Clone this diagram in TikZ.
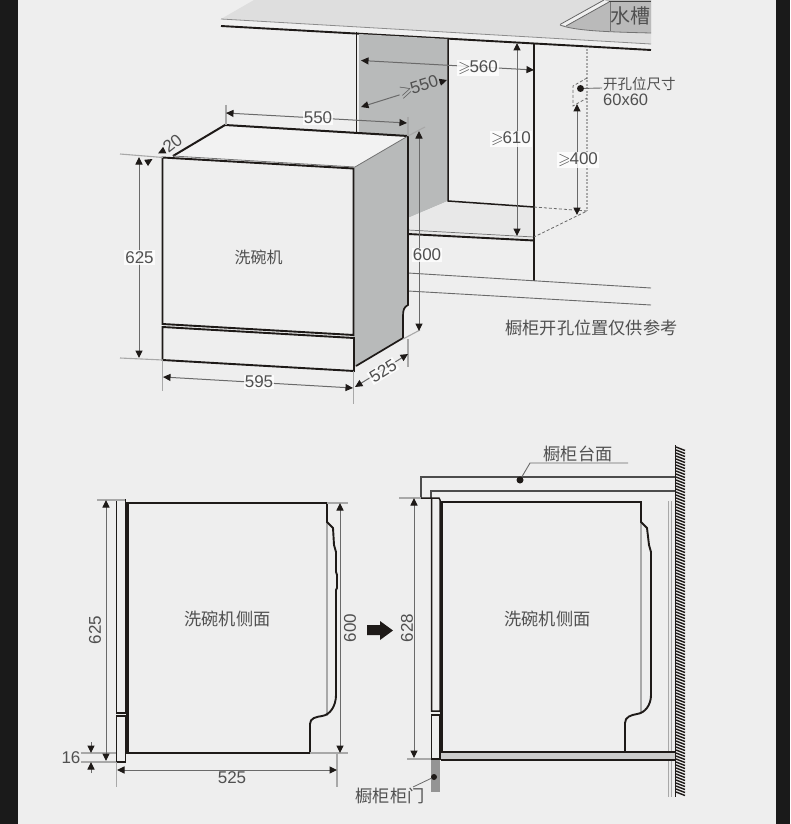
\documentclass[tikz,border=0pt]{standalone}
\usepackage{amssymb}
\usepackage{fontspec}
\setmainfont{Liberation Sans}
\newfontfamily\cjk{Noto Sans CJK SC}
\usetikzlibrary{arrows.meta}
\definecolor{bgc}{HTML}{EEEEEE}
\definecolor{band}{HTML}{1A1A1A}
\definecolor{sidec}{HTML}{B8BABA}
\definecolor{dimc}{HTML}{6A6A6A}
\definecolor{extc}{HTML}{A8A8A8}
\definecolor{txt}{HTML}{505050}
\definecolor{ink}{HTML}{1E1A18}
\newcommand{\gequ}{{\fontsize{16}{16}\selectfont$\geqslant$}\kern-1pt}
\tikzset{
 heavy/.style={draw=ink,line width=1.9pt,line join=miter},
 mid/.style={draw=ink,line width=1.5pt},
 thick2/.style={draw=ink,line width=3pt},
 dimline/.style={draw=dimc,line width=1pt,{Triangle[length=7.5pt,width=7pt,fill=ink,color=ink]}-{Triangle[length=7.5pt,width=7pt,fill=ink,color=ink]}},
 dimone/.style={draw=dimc,line width=1pt,-{Triangle[length=7.5pt,width=7pt,fill=ink,color=ink]}},
 extline/.style={draw=extc,line width=1.1pt},
 dimlab/.style={fill=white,fill opacity=.8,text opacity=1,text=txt,inner sep=1pt,font=\fontsize{17}{17}\selectfont},
 plainlab/.style={text=txt,inner sep=0pt,font=\fontsize{17}{17}\selectfont},
 cjklab/.style={text=txt,inner sep=0pt,font=\cjk\fontsize{17.2}{17.2}\selectfont},
 blob/.style={circle,fill=ink,inner sep=0pt,minimum size=7pt},
 dashgrey/.style={draw=dimc,line width=0.8pt,dash pattern=on 3pt off 2pt},
 dotgrey/.style={draw=extc,line width=1.2pt,dash pattern=on 2pt off 1.5pt},
}
\begin{document}
\begin{tikzpicture}[x=1pt,y=-1pt]
\useasboundingbox (0,0) rectangle (790,824);
\fill[bgc] (0,0) rectangle (790,824);
\fill[band] (0,0) rectangle (18,824);
\fill[band] (776,0) rectangle (790,824);

% ---- counter top and sink
\fill[black!13] (221,19) -- (254,0) -- (651,0) -- (651,44) -- cycle;
\fill[black!6] (221,19) -- (651,44) -- (651,50) -- (221,26) -- cycle;
\draw[draw=black!45,line width=.8pt] (221,19) -- (651,44);
\draw[heavy] (221,26) -- (651,50);
\fill[black!27] (560,25) -- (604,0) -- (651,0) -- (651,33) .. controls (610,32) and (575,31) .. (560,25) -- cycle;
\fill[black!6] (560,24.5) -- (604,0) -- (609,2) -- (566,26) -- cycle;
\draw[draw=black!60,line width=.8pt] (560,24.5) -- (604,0);
\draw[draw=black!60,line width=.8pt] (566,26) -- (609,2);
\draw[draw=black!75,line width=1pt] (609,1.5) -- (651,1.5);
\draw[draw=black!55,line width=.8pt] (610,2) -- (610,31);
\draw[draw=black!55,line width=.8pt] (560,25) .. controls (575,31) and (610,32) .. (651,33);
\node[text=txt,inner sep=0pt,font=\cjk\fontsize{20}{20}\selectfont] (sink) at (630,16) {水槽};

% ---- cabinet opening
\fill[sidec] (359,34) -- (448,39) -- (448,201) -- (408,218) -- (359,218) -- cycle;
\fill[black!9] (448,201) -- (534,207) -- (534,240) -- (408,233) -- (408,218) -- cycle;
\draw[mid] (448,39) -- (448,201) -- (534,207);
\draw[draw=black!55,line width=.7pt] (408,230) -- (534,237);
\draw[heavy] (408,234) -- (534,240.5);
\draw[mid,line width=1.6pt] (534,44) -- (534,281);
\draw[heavy] (356.5,32) -- (356.5,133);
\draw[draw=dimc,line width=.9pt] (408,273) -- (651,288);
\draw[draw=dimc,line width=.9pt] (408,291) -- (651,305);
\draw[dashgrey] (534,207) -- (587,211) -- (534,237);
\draw[dotgrey] (587,49) -- (587,211);
\draw[dashgrey] (587,78) -- (573,86) -- (573,106) -- (587,98);

% ---- dishwasher 3D
\fill[black!5] (173,156) -- (225,125) -- (408,136) -- (355,167) -- cycle;
\fill[sidec] (353,168) -- (408,136) -- (408,305) .. controls (404,307) and (403,310) .. (403,316) -- (403,338) -- (356,366) -- (353,371) -- cycle;
\draw[draw=ink,line width=2pt] (173,156) -- (225,125) -- (408,136);
\draw[draw=black!55,line width=.8pt] (408,136) -- (355,167) (173,156) -- (355,167);
\draw[draw=ink,line width=1.7pt] (408,136) -- (408,305) .. controls (404,307) and (403,310) .. (403,316) -- (403,338) -- (356,366);
\draw[heavy] (162.5,324) -- (162.5,157.5) -- (353.5,168.5) -- (353.5,335) -- cycle;
\draw[heavy] (162.5,327) -- (162.5,360) -- (354,371) -- (354,338) -- cycle;
\node[cjklab,font=\cjk\fontsize{16}{16}\selectfont] (wlabel) at (258.5,257.5) {洗碗机};

% ---- 3D dimensions
\draw[extline] (226,105) -- (226,125);
\draw[extline] (408,117) -- (408,136);
\draw[extline] (120,154) -- (163,157.5);
\draw[extline] (120,358) -- (163,360);
\draw[extline] (162.5,360) -- (162.5,391);
\draw[extline] (353.5,371) -- (353.5,404);
\draw[extline] (408,339) -- (408,367);
\draw[extline] (408,136) -- (425,127);
\draw[extline] (403,339) -- (420,330);
\coordinate (a1) at (226,113); \coordinate (a2) at (407,123);
\draw[dimline] (a1) -- (a2);
\node[dimlab,fill=white] (l550) at (318,118) {550};
\coordinate (b1) at (139,157); \coordinate (b2) at (139,358);
\draw[dimline] (b1) -- (b2);
\node[dimlab,fill=white] (l625) at (139.5,257.5) {625};
\coordinate (c1) at (163,377); \coordinate (c2) at (353,388);
\draw[dimline] (c1) -- (c2);
\node[dimlab,fill=white] (l595) at (259,382) {595};
\coordinate (d1) at (355,387); \coordinate (d2) at (408,354);
\draw[dimline] (d1) -- (d2);
\node[dimlab,fill=white,rotate=32] (l525) at (383,371) {525};
\coordinate (e1) at (419,131); \coordinate (e2) at (419,331);
\draw[dimline] (e1) -- (e2);
\node[dimlab,fill=white] (l600) at (427,255) {600};
\coordinate (f1) at (146,163); \coordinate (f2) at (152.5,159);
\draw[dimone] (f1) -- (f2);
\coordinate (g1) at (165,150); \coordinate (g2) at (158,153.5);
\draw[dimone] (g1) -- (g2);
\node[plainlab,rotate=38] (l20) at (172.5,143.5) {20};

% ---- opening dimensions
\coordinate (h1) at (361,60.5); \coordinate (h2) at (534,70);
\draw[dimline] (h1) -- (h2);
\node[dimlab] (l560) at (478,68) {\gequ 560};
\coordinate (i1) at (361,107); \coordinate (i2) at (447,80);
\draw[dimline] (i1) -- (i2);
\node[dimlab,fill=sidec,fill opacity=1,rotate=17] (l550b) at (419,87) {\gequ 550};
\coordinate (j1) at (517,43); \coordinate (j2) at (517,236);
\draw[dimline] (j1) -- (j2);
\node[dimlab] (l610) at (511,139) {\gequ 610};
\coordinate (k1) at (577,104); \coordinate (k2) at (577,215);
\draw[dimline] (k1) -- (k2);
\node[dimlab] (l400) at (578,160) {\gequ 400};
\node[blob] (hole) at (580.5,88.5) {};
\coordinate (holeend) at (602,88);
\draw[draw=dimc,line width=.9pt] (hole) -- (holeend);
\node[text=txt,inner sep=0pt,anchor=west,font=\cjk\fontsize{14.5}{14.5}\selectfont] (t1) at (603,84) {开孔位尺寸};
\node[text=txt,inner sep=0pt,anchor=west,font=\fontsize{16.5}{16.5}\selectfont] (t2) at (603,100) {60x60};
\node[cjklab] (t3) at (591.5,328) {橱柜开孔位置仅供参考};

% ---- lower left side view
\draw[mid] (116.5,500) rectangle (125.5,713);
\draw[mid] (116.5,716) rectangle (125.5,762);
\draw[extline] (327,522) -- (327,716);
\draw[thick2,line cap=butt] (127.5,502) -- (127.5,754);
\draw[heavy] (127,503) -- (327,503) -- (327,522) -- (333,528) -- (334,545) -- (336,552) -- (336,572) -- (337,575) -- (337,588) -- (336,590) -- (336,695) .. controls (336,706) and (330,715) .. (322,716) .. controls (316,717) and (310,718) .. (310,724) -- (310,753) -- (127,753);
\node[cjklab] (s1) at (227.5,619) {洗碗机侧面};
\draw[extline] (97,500) -- (125,500);
\draw[extline] (81,762) -- (116,762);
\draw[extline] (81,753) -- (116,753);
\draw[extline] (310,753) -- (348,753);
\draw[extline] (327,503) -- (348,503);
\draw[extline] (116.5,762) -- (116.5,787);
\draw[extline] (337,753) -- (337,787);
\coordinate (m1) at (106,500); \coordinate (m2) at (106,761);
\draw[dimline] (m1) -- (m2);
\node[plainlab,rotate=90] (l625b) at (95,630) {625};
\coordinate (n1) at (340,503); \coordinate (n2) at (340,753);
\draw[dimline] (n1) -- (n2);
\node[plainlab,rotate=90] (l600b) at (350,628) {600};
\coordinate (o1) at (91,742); \coordinate (o2) at (91,753);
\draw[dimone] (o1) -- (o2);
\coordinate (p1) at (91,773); \coordinate (p2) at (91,762);
\draw[dimone] (p1) -- (p2);
\node[plainlab] (l16) at (71,758) {16};
\coordinate (q1) at (117,770); \coordinate (q2) at (337,770);
\draw[dimline] (q1) -- (q2);
\node[plainlab] (l525b) at (232,778) {525};

% ---- arrow
\fill[ink] (367,625) -- (380,625) -- (380,621) -- (393,630.5) -- (380,640) -- (380,635) -- (367,635) -- cycle;

% ---- lower right
\fill[black!8] (668,501) rectangle (671,797);
\draw[draw=extc,line width=1pt] (668,501) -- (668,797) (671,501) -- (671,797);
\fill[black!20] (441,752) rectangle (675,760);
\draw[mid] (441,752) -- (675,752);
\draw[mid] (441,760) -- (675,760);
\draw[draw=black!70,line width=1.4pt] (421,498) -- (421,477) -- (675,477);
\draw[draw=black!70,line width=1.4pt] (431,498) -- (431,491) -- (675,491);
\draw[mid] (421,498) -- (439,498) -- (440,500) -- (440,712) (431.5,498) -- (431.5,711) -- (440,711);
\draw[mid] (431.5,715) rectangle (440,759);
\draw[extline] (641,522) -- (641,714);
\draw[thick2,line cap=butt] (441.5,501) -- (441.5,752);
\draw[heavy] (441,502) -- (641,502) -- (641,522) -- (647,528) -- (649,545) -- (651,552) -- (651,695) .. controls (651,705) and (645,713) .. (637,714) .. controls (631,715) and (625,717) .. (625,723) -- (625,752);
\node[cjklab] (s2) at (547.5,619) {洗碗机侧面};
\draw[extline] (399,498) -- (421,498);
\draw[extline] (407,759) -- (431,759);
\coordinate (r1) at (414,498); \coordinate (r2) at (414,758);
\draw[dimline] (r1) -- (r2);
\node[plainlab,rotate=90] (l628) at (407,628) {628};
\fill[black!42] (431,760) rectangle (440,792);
\node[blob,minimum size=6pt] (doordot) at (434,777) {};
\node[cjklab] (t4) at (390,796) {橱柜柜门};
\coordinate (t4end) at (413,787);
\draw[draw=dimc,line width=.8pt] (doordot) -- (t4end);
\node[blob] (topdot) at (520,480) {};
\coordinate (u1) at (530,463); \coordinate (u2) at (628,463);
\draw[draw=dimc,line width=.9pt] (topdot) -- (u1) -- (u2);
\node[cjklab] (t5) at (578,454) {橱柜台面};
% wall
\draw[draw=ink,line width=1.5pt] (675.5,445) -- (675.5,797);
\foreach \y in {447,450,...,794}{
  \draw[draw=ink,line width=1.4pt] (676,\y) -- (685,\y+3.5);
}
\end{tikzpicture}
\end{document}
